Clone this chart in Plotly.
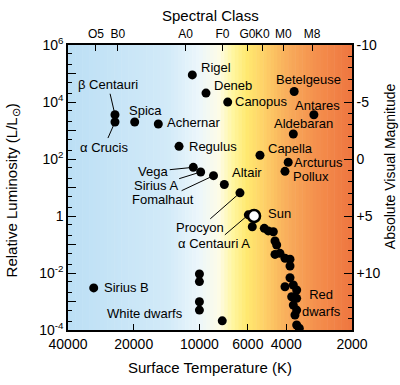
import numpy as np
import plotly.graph_objects as go

# ---------------- data ----------------
star_names = ["Rigel", "Deneb", "Canopus", "β Centauri", "α Crucis", "Spica",
              "Achernar", "Regulus", "Vega", "Sirius A", "Fomalhaut", "Altair",
              "Procyon", "Betelgeuse", "Antares", "Aldebaran", "Capella",
              "Arcturus", "Pollux", "α Centauri A", "Sirius B"]
star_temp = [10780, 9330, 7420, 24370, 24370, 19790, 15430, 12400, 10670, 9870,
             8620, 7690, 6520, 3680, 2990, 3715, 5280, 3920, 4055, 5970, 30500]
star_lum = [89000, 20500, 9900, 3570, 1980, 1980, 1690, 278, 51, 35,
            26, 12.7, 6.5, 23300, 3570, 755, 135, 77, 37, 1.1, 0.0030]

sun_temp = [5620]
sun_lum = [1.0]

ms_temp = [5725, 5046, 4836, 4587, 4506, 4426, 4506, 4275, 4055, 3846, 3846,
           3846, 4055, 3715, 3585, 3779, 3585, 3715, 3585, 3650, 3585, 3487]
ms_lum = [0.42, 0.37, 0.30, 0.28, 0.133, 0.096, 0.045, 0.049, 0.0328, 0.0303,
          0.0176, 0.00684, 0.0033, 0.0038, 0.00254, 0.00147, 0.00129, 0.00075,
          0.0005, 0.000336, 0.00015, 0.000115]

wd_temp = [10000, 10000, 10000, 10000, 7860]
wd_lum = [0.0092, 0.0050, 0.00098, 0.0005, 0.00021]

temp_ticks = [40000, 20000, 10000, 6000, 4000, 2000]
spectral_labels = ["O5", "B0", "A0", "F0", "G0", "K0", "M0", "M8"]
spectral_temps = [29800, 23650, 11580, 7840, 6030, 5150, 4130, 3045]
lum_decades = list(range(-4, 7))
mag_ticks = [-10, -5, 0, 5, 10]
mag_labels = ["-10", "-5", "0", "+5", "+10"]

# ---------------- label placement (style) ----------------
# text labels: (xanchor, xshift, yshift)
text_labels = {
    "Rigel": ("left", 8, 7), "Deneb": ("left", 7, 8), "Canopus": ("left", 6, 1),
    "Betelgeuse": ("center", 14, 12), "Antares": ("center", 4, 9),
    "Aldebaran": ("center", 10, 10), "Capella": ("left", 7, 7),
    "Arcturus": ("left", 5, 0), "Pollux": ("left", 7, -5),
    "Altair": ("left", 7, 12), "Regulus": ("left", 9, 0),
    "Spica": ("center", 11, 12), "Achernar": ("left", 8, 2),
    "Sirius B": ("left", 9, 0),
}
# leader-line labels: (ax, ay)
arrow_labels = {
    "β Centauri": (-7, -30), "α Crucis": (-11, 25), "Vega": (-40, 4),
    "Sirius A": (-45, 14), "Fomalhaut": (-51, 24), "Procyon": (-40, 35),
    "α Centauri A": (-34, 29),
}

FONT = "Liberation Sans, Arial, sans-serif"

fig = go.Figure()

# background gradient
stops = [(0.0, (188, 223, 245)), (0.35, (210, 234, 248)), (0.46, (236, 246, 251)),
         (0.53, (253, 252, 232)), (0.58, (255, 246, 160)), (0.63, (255, 233, 112)),
         (0.70, (253, 204, 102)), (0.78, (248, 170, 90)), (0.88, (244, 142, 76)),
         (1.0, (238, 118, 64))]
N = 80
sp = np.array([s[0] for s in stops])
sc = np.array([s[1] for s in stops], dtype=float)
for i in range(N):
    f0, f1 = i / N, (i + 1) / N
    fm = (f0 + f1) / 2
    c = [np.interp(fm, sp, sc[:, k]) for k in range(3)]
    fig.add_shape(type="rect", xref="x domain", yref="y domain",
                  x0=f0, x1=min(f1 + 0.002, 1), y0=0, y1=1, layer="below",
                  line=dict(width=0),
                  fillcolor="rgb(%d,%d,%d)" % tuple(int(round(v)) for v in c))

marker = dict(color="black", size=9)
fig.add_trace(go.Scatter(x=star_temp, y=star_lum, mode="markers", marker=marker,
                         hoverinfo="text", text=star_names))
fig.add_trace(go.Scatter(x=ms_temp, y=ms_lum, mode="markers", marker=marker))
fig.add_trace(go.Scatter(x=wd_temp, y=wd_lum, mode="markers", marker=marker))
fig.add_trace(go.Scatter(x=sun_temp, y=sun_lum, mode="markers",
                         marker=dict(color="white", size=12,
                                     line=dict(color="black", width=2.5))))
# helper traces to activate secondary axes
fig.add_trace(go.Scatter(x=[3000], y=[0], mode="markers", yaxis="y2",
                         marker=dict(opacity=0), hoverinfo="skip"))
fig.add_trace(go.Scatter(x=[3000], y=[1], mode="markers", xaxis="x2",
                         marker=dict(opacity=0), hoverinfo="skip"))

ann = []
lab_font = dict(family=FONT, size=13, color="black")
for name, t, l in zip(star_names, star_temp, star_lum):
    if name in text_labels:
        xa, xs, ys = text_labels[name]
        ann.append(dict(x=np.log10(t), y=np.log10(l), xref="x", yref="y",
                        text=name, showarrow=False, xanchor=xa, yanchor="middle",
                        xshift=xs, yshift=ys, font=lab_font, borderpad=0))
    elif name in arrow_labels:
        ax, ay = arrow_labels[name]
        ann.append(dict(x=np.log10(t), y=np.log10(l), xref="x", yref="y",
                        text=name, showarrow=True, arrowhead=0, arrowwidth=1,
                        arrowcolor="black", ax=ax, ay=ay, standoff=4,
                        font=lab_font))
ann.append(dict(x=np.log10(sun_temp[0]), y=np.log10(sun_lum[0]), xref="x", yref="y",
                text="Sun", showarrow=False, xanchor="left", yanchor="middle",
                xshift=12, yshift=3, font=lab_font))
ann.append(dict(x=np.log10(wd_temp[3]), y=np.log10(wd_lum[3]), xref="x", yref="y",
                text="White dwarfs", showarrow=False, xanchor="right",
                yanchor="middle", xshift=-14, yshift=-3, font=lab_font))
ann.append(dict(x=np.log10(ms_temp[16]), y=np.log10(ms_lum[16]), xref="x", yref="y",
                text="Red<br>dwarfs", showarrow=False, xanchor="center",
                yanchor="middle", xshift=25, yshift=-5, align="center",
                font=lab_font))

title_font = dict(family=FONT, size=15, color="black")
ann += [
    dict(x=0.5, y=1.105, xref="paper", yref="paper", text="Spectral Class",
         xanchor="center", yanchor="middle", showarrow=False, font=title_font),
    dict(x=0.5, y=-0.133, xref="paper", yref="paper", text="Surface Temperature (K)",
         xanchor="center", yanchor="middle", showarrow=False, font=title_font),
    dict(x=-0.197, y=0.49, xref="paper", yref="paper",
         text="Relative Luminosity (L/L<sub>⊙</sub>)", textangle=-90,
         xanchor="center", yanchor="middle", showarrow=False, font=title_font),
    dict(x=1.134, y=0.575, xref="paper", yref="paper",
         text="Absolute Visual Magnitude", textangle=-90,
         xanchor="center", yanchor="middle", showarrow=False,
         font=dict(family=FONT, size=14, color="black")),
]

def lum_text(k):
    if k % 2:
        return ""
    if k == 0:
        return "1"
    return "10<sup>%d</sup>" % k

xr = [np.log10(40000), np.log10(2000)]
axis_common = dict(showgrid=False, zeroline=False, showline=True, linecolor="black",
                   linewidth=1.5, ticks="inside", tickcolor="black",
                   automargin=False, tickangle=0)
fig.update_layout(
    width=400, height=385, margin=dict(l=68, r=48, t=45, b=55),
    paper_bgcolor="white", plot_bgcolor="white", showlegend=False,
    font=dict(family=FONT, color="black"),
    xaxis=dict(type="log", range=xr, tickvals=temp_ticks,
               ticktext=[str(v) for v in temp_ticks], ticklen=6,
               tickfont=dict(size=14), **axis_common),
    xaxis2=dict(type="log", range=xr, overlaying="x", side="top", anchor="y",
                tickvals=spectral_temps, ticktext=spectral_labels, ticklen=6,
                tickfont=dict(size=12), **axis_common),
    yaxis=dict(type="log", range=[-4, 6], tickvals=[10.0 ** k for k in lum_decades],
               ticktext=[lum_text(k) for k in lum_decades], ticklen=8,
               tickfont=dict(size=14),
               minor=dict(ticks="inside", ticklen=4, tickcolor="black",
                          dtick="D2", showgrid=False),
               **axis_common),
    yaxis2=dict(range=[15, -10], overlaying="y", side="right", anchor="x",
                tickvals=mag_ticks, ticktext=mag_labels, ticklen=8,
                tickfont=dict(size=14),
                minor=dict(ticks="inside", ticklen=4, tickcolor="black",
                           dtick=1, showgrid=False),
                **axis_common),
    annotations=ann,
)

# remove the browser's default 8px body margin so the 400x385 figure fills the window
fig.write_html("out.html", config={"displayModeBar": False},
               post_script="document.body.style.margin='0px';"
                           "document.body.style.overflow='hidden';")
